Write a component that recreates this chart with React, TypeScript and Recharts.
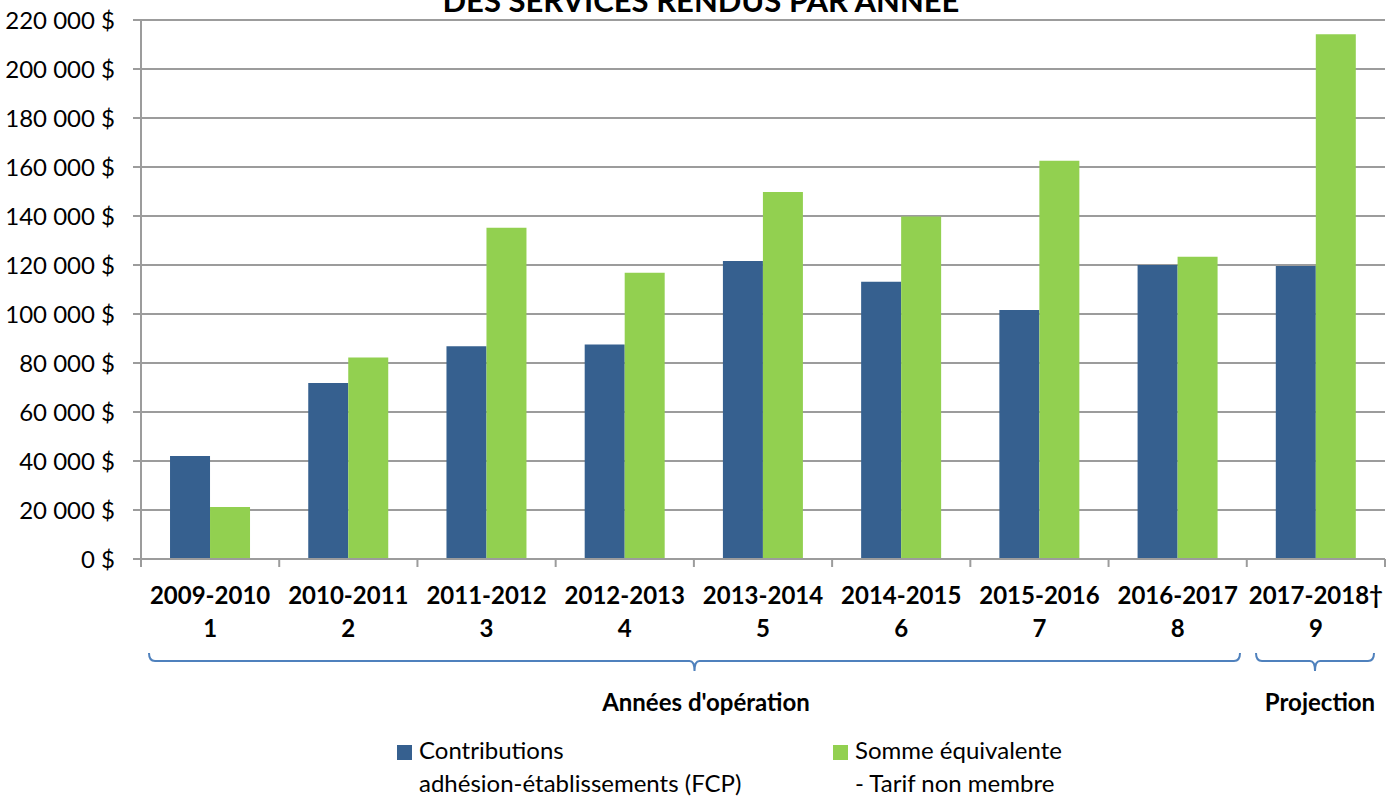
import React from "react";
import { BarChart, Bar, XAxis, YAxis, CartesianGrid } from "recharts";

const years = [
  "2009-2010",
  "2010-2011",
  "2011-2012",
  "2012-2013",
  "2013-2014",
  "2014-2015",
  "2015-2016",
  "2016-2017",
  "2017-2018†",
];
const yearNumbers = ["1", "2", "3", "4", "5", "6", "7", "8", "9"];
const contributions = [42000, 71800, 86800, 87600, 121600, 113200, 101600, 120000, 119600];
const equivalent = [21200, 82200, 135200, 116800, 149800, 139800, 162600, 123400, 214200];
const yTicks = [0, 20000, 40000, 60000, 80000, 100000, 120000, 140000, 160000, 180000, 200000, 220000];

const BLUE = "#36608F";
const GREEN = "#92D050";
const GRID = "#9C9C9C";
const BRACE = "#4F81BD";
const FONT = "Lato, 'Open Sans', sans-serif";

const W = 1400;
const H = 797;
const PLOT_LEFT = 141;
const PLOT_RIGHT = 1385;
const BAND = (PLOT_RIGHT - PLOT_LEFT) / years.length;

const data = years.map((year, i) => ({
  year,
  num: yearNumbers[i],
  contributions: contributions[i],
  equivalent: equivalent[i],
}));

const fmt = (v: number) => `${v.toLocaleString("fr-FR").replace(/\s/g, " ")} $`;

function YearTick(props: any) {
  const { x, y, payload, index } = props;
  const left = x - BAND / 2;
  const right = x + BAND / 2;
  return (
    <g>
      <line x1={left} y1={y} x2={left} y2={y + 8} stroke={GRID} strokeWidth={2} />
      {index === years.length - 1 && (
        <line x1={right} y1={y} x2={right} y2={y + 8} stroke={GRID} strokeWidth={2} />
      )}
      <text x={x} y={y + 45} textAnchor="middle" fontFamily={FONT} fontWeight={700} fontSize={24} fill="#000">
        {payload.value}
      </text>
      <text x={x} y={y + 78} textAnchor="middle" fontFamily={FONT} fontWeight={700} fontSize={24} fill="#000">
        {yearNumbers[index]}
      </text>
    </g>
  );
}

function brace(x1: number, x2: number, top: number, bottom: number, nub: number) {
  const mid = (x1 + x2) / 2;
  return `M${x1},${top} Q${x1},${bottom} ${x1 + 6},${bottom} L${mid - 5},${bottom} Q${mid},${bottom} ${mid},${nub} Q${mid},${bottom} ${mid + 5},${bottom} L${x2 - 6},${bottom} Q${x2},${bottom} ${x2},${top}`;
}

export default function App() {
  return (
    <div style={{ position: "absolute", left: 0, top: 0, width: W, height: H, background: "#fff" }}>
      <BarChart
        width={W}
        height={H}
        data={data}
        margin={{ top: 20, right: W - PLOT_RIGHT, left: 0, bottom: 0 }}
        barCategoryGap="21%"
        barGap={0}
      >
        <text x={701} y={12} textAnchor="middle" fontFamily={FONT} fontWeight={700} fontSize={31} fill="#000">
          DES SERVICES RENDUS PAR ANNÉE
        </text>
        <CartesianGrid vertical={false} stroke={GRID} strokeWidth={2} />
        <XAxis
          dataKey="year"
          height={H - 559}
          axisLine={{ stroke: GRID, strokeWidth: 2 }}
          tickLine={false}
          tickSize={0}
          tickMargin={0}
          interval={0}
          tick={<YearTick />}
        />
        <YAxis
          width={PLOT_LEFT}
          domain={[0, 220000]}
          ticks={yTicks}
          interval={0}
          tickFormatter={fmt}
          axisLine={{ stroke: GRID, strokeWidth: 2 }}
          tickLine={{ stroke: GRID, strokeWidth: 2 }}
          tickSize={8}
          tickMargin={18}
          tick={{ fontFamily: FONT, fontSize: 24, fill: "#000" }}
        />
        <Bar dataKey="contributions" fill={BLUE} isAnimationActive={false} />
        <Bar dataKey="equivalent" fill={GREEN} isAnimationActive={false} />
      </BarChart>
      <svg width={W} height={H} style={{ position: "absolute", left: 0, top: 0, pointerEvents: "none" }}>
        <path d={brace(149, 1240, 653, 661, 671)} fill="none" stroke={BRACE} strokeWidth={2} />
        <path d={brace(1256, 1374, 653, 661, 671)} fill="none" stroke={BRACE} strokeWidth={2} />
        <text x={706} y={711} textAnchor="middle" fontFamily={FONT} fontWeight={700} fontSize={24} fill="#000">
          Années d'opération
        </text>
        <text x={1320} y={711} textAnchor="middle" fontFamily={FONT} fontWeight={700} fontSize={24} fill="#000">
          Projection
        </text>
        <rect x={397} y={745} width={15} height={15} fill={BLUE} />
        <text fontFamily={FONT} fontSize={24} fill="#000">
          <tspan x={419} y={759}>Contributions</tspan>
          <tspan x={419} y={792}>adhésion-établissements (FCP)</tspan>
        </text>
        <rect x={833} y={745} width={15} height={15} fill={GREEN} />
        <text fontFamily={FONT} fontSize={24} fill="#000">
          <tspan x={855} y={759}>Somme équivalente</tspan>
          <tspan x={855} y={792}>- Tarif non membre</tspan>
        </text>
      </svg>
    </div>
  );
}
